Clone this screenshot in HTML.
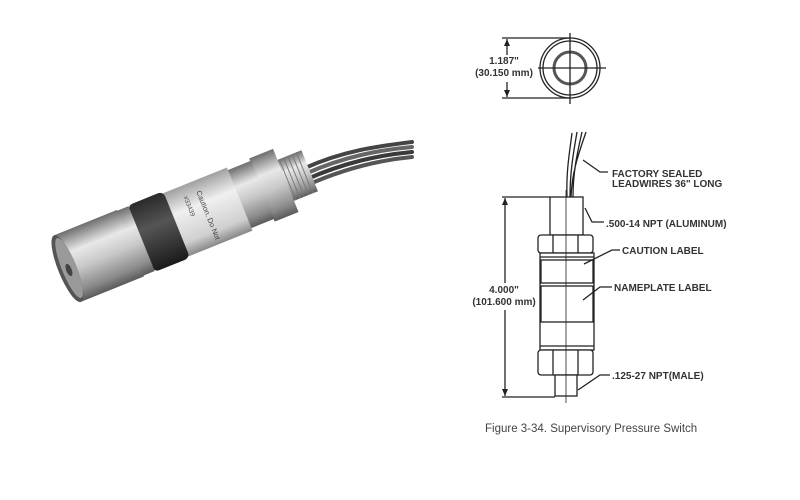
<!DOCTYPE html>
<html><head><meta charset="utf-8"><style>
html,body{margin:0;padding:0;background:#fff;}
svg{display:block}
text{font-family:"Liberation Sans",Arial,sans-serif;}
.b{font-weight:bold;font-size:10px;fill:#333}
</style></head><body>
<svg width="800" height="500" viewBox="0 0 800 500" xmlns="http://www.w3.org/2000/svg">
<defs>
<linearGradient id="met" x1="0" y1="0" x2="0" y2="1">
<stop offset="0" stop-color="#6e6e6e"/><stop offset="0.3" stop-color="#e8e8e8"/><stop offset="0.55" stop-color="#c8c8c8"/><stop offset="0.85" stop-color="#8a8a8a"/><stop offset="1" stop-color="#5a5a5a"/></linearGradient>
<linearGradient id="blk" x1="0" y1="0" x2="0" y2="1">
<stop offset="0" stop-color="#2a2a2a"/><stop offset="0.4" stop-color="#555"/><stop offset="1" stop-color="#1a1a1a"/></linearGradient>
<linearGradient id="lab" x1="0" y1="0" x2="0" y2="1">
<stop offset="0" stop-color="#a0a0a0"/><stop offset="0.35" stop-color="#f0f0f0"/><stop offset="0.8" stop-color="#d0d0d0"/><stop offset="1" stop-color="#888"/></linearGradient>
</defs>
<!-- wires -->
<g fill="none" stroke-linecap="round">
<path d="M305,168 C345,150 380,146 412,142" stroke="#444" stroke-width="4"/>
<path d="M305,174 C345,156 380,150 412,147" stroke="#666" stroke-width="4"/>
<path d="M305,180 C345,162 380,155 412,152" stroke="#3a3a3a" stroke-width="4"/>
<path d="M305,186 C345,168 380,160 412,157" stroke="#555" stroke-width="4"/>
</g>
<g transform="translate(64,270) rotate(-22) scale(0.92)">
<rect x="258" y="-24" width="30" height="48" fill="url(#met)"/>
<g stroke="#777" stroke-width="1">
<line x1="262" y1="-24" x2="262" y2="24"/><line x1="267" y1="-24" x2="267" y2="24"/><line x1="272" y1="-24" x2="272" y2="24"/><line x1="277" y1="-24" x2="277" y2="24"/><line x1="282" y1="-24" x2="282" y2="24"/>
</g>
<rect x="232" y="-37" width="28" height="74" fill="url(#met)"/>
<rect x="205" y="-34" width="28" height="68" fill="url(#met)"/>
<rect x="130" y="-37" width="76" height="74" fill="url(#lab)"/>
<text x="165" y="-25" font-size="8" fill="#444" transform="rotate(90 165 -25)">Caution. Do Not</text>
<text x="150" y="-25" font-size="7" fill="#555" transform="rotate(90 150 -25)">#33439</text>
<rect x="90" y="-39" width="42" height="78" rx="6" fill="url(#blk)"/>
<rect x="76" y="-38" width="15" height="76" fill="url(#met)"/>
<rect x="4" y="-39" width="74" height="78" fill="url(#met)"/>
<ellipse cx="4" cy="0" rx="10" ry="39" fill="#555"/>
<ellipse cx="6" cy="0" rx="8" ry="35" fill="#9a9a9a"/>
<ellipse cx="5" cy="2" rx="3" ry="7" fill="#444"/>
</g>

<!-- top view -->
<g stroke="#222" fill="none" stroke-width="1.3">
<circle cx="570" cy="68" r="30"/><circle cx="570" cy="68" r="27"/>
<circle cx="570" cy="68" r="16" stroke-width="3" stroke="#555"/>
<line x1="570" y1="33" x2="570" y2="104"/><line x1="538" y1="68" x2="606" y2="68"/>
<line x1="502" y1="38" x2="570" y2="38"/><line x1="502" y1="98" x2="570" y2="98"/>
<line x1="507" y1="39" x2="507" y2="55"/><line x1="507" y1="82" x2="507" y2="97"/>
</g>
<path d="M507,39 l-3,7 h6z M507,97 l-3,-7 h6z" fill="#222"/>
<text x="504" y="64" class="b" text-anchor="middle" font-weight="normal">1.187"</text>
<text x="504" y="76" class="b" text-anchor="middle">(30.150 mm)</text>

<!-- side view -->
<g stroke="#222" fill="none" stroke-width="1.3">
<path d="M567,197 C566,170 570,150 572,133 M570,197 C570,170 574,150 577,132 M573,197 C573,170 578,150 582,132 M571,197 C572,170 580,150 586,132"/>
<rect x="550" y="197" width="33" height="38" fill="#fff"/>
<rect x="538" y="235" width="55" height="18" rx="3" fill="#fff"/>
<line x1="553" y1="235" x2="553" y2="253"/><line x1="578" y1="235" x2="578" y2="253"/>
<rect x="540" y="253" width="54" height="97" fill="#fff"/>
<line x1="540" y1="257" x2="594" y2="257"/>
<rect x="541" y="260" width="52" height="23"/>
<rect x="541" y="286" width="52" height="36"/>
<line x1="540" y1="346" x2="594" y2="346"/>
<rect x="538" y="350" width="55" height="25" rx="3" fill="#fff"/>
<line x1="553" y1="350" x2="553" y2="375"/><line x1="578" y1="350" x2="578" y2="375"/>
<rect x="555" y="375" width="22" height="21" fill="#fff"/>
<line x1="566" y1="190" x2="566" y2="403" stroke-width="0.8"/>
<line x1="502" y1="197" x2="550" y2="197"/><line x1="502" y1="397" x2="555" y2="397"/>
<line x1="505" y1="198" x2="505" y2="283"/><line x1="505" y1="310" x2="505" y2="396"/>
<path d="M583,160 L600,172 L608,172"/>
<path d="M585,208 L592,222 L604,222"/>
<path d="M584,264 L612,250 L620,250"/>
<path d="M583,300 L600,287 L612,287"/>
<path d="M578,390 L600,375 L610,375"/>
</g>
<path d="M505,198 l-3,7 h6z M505,396 l-3,-7 h6z" fill="#222"/>
<text x="504" y="293" class="b" text-anchor="middle" font-weight="normal">4.000"</text>
<text x="504" y="305" class="b" text-anchor="middle">(101.600 mm)</text>
<text x="612" y="177" class="b">FACTORY SEALED</text>
<text x="612" y="187" class="b">LEADWIRES 36" LONG</text>
<text x="606" y="227" class="b">.500-14 NPT (ALUMINUM)</text>
<text x="622" y="254" class="b">CAUTION LABEL</text>
<text x="614" y="291" class="b">NAMEPLATE LABEL</text>
<text x="612" y="379" class="b">.125-27 NPT(MALE)</text>
<text x="485" y="432" font-size="11.5" fill="#444">Figure 3-34. Supervisory Pressure Switch</text>
</svg>
</body></html>
